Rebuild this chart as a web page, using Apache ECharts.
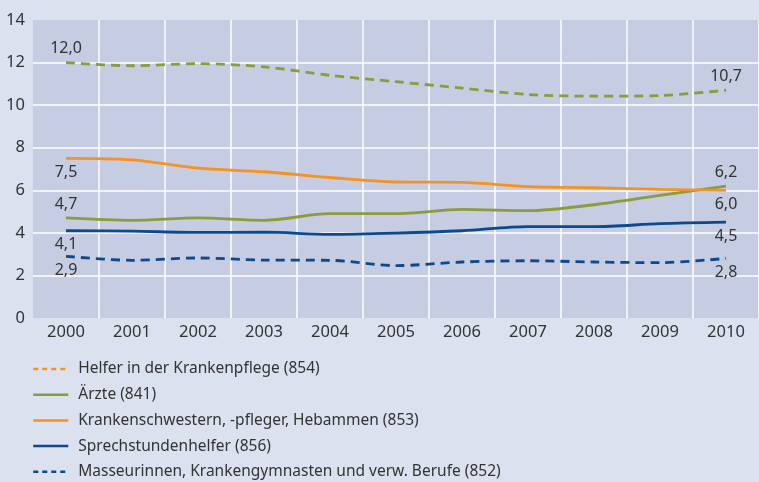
<!DOCTYPE html>
<html>
<head>
<meta charset="utf-8">
<script src="https://cdn.jsdelivr.net/npm/echarts@6/dist/echarts.min.js"></script>
<style>
  html, body { margin: 0; padding: 0; background: #dbe1ee; }
  #chart { width: 759px; height: 482px; }
</style>
</head>
<body>
<div id="chart"></div>
<script>
// Years on the x axis
const years = ['2000','2001','2002','2003','2004','2005','2006','2007','2008','2009','2010'];

// Shares per occupational group
const helfer       = [12.0, 11.85, 11.95, 11.8, 11.4, 11.1, 10.8, 10.5, 10.42, 10.45, 10.7];
const aerzte       = [4.7, 4.59, 4.7, 4.59, 4.9, 4.9, 5.1, 5.04, 5.32, 5.76, 6.2];
const krankenschw  = [7.5, 7.43, 7.04, 6.87, 6.6, 6.39, 6.37, 6.17, 6.12, 6.04, 6.0];
const sprechstd    = [4.1, 4.08, 4.02, 4.03, 3.93, 3.99, 4.1, 4.29, 4.29, 4.43, 4.5];
const masseur      = [2.9, 2.71, 2.82, 2.72, 2.71, 2.46, 2.63, 2.69, 2.63, 2.6, 2.8];

// y-axis ticks
const yTicks = [0, 2, 4, 6, 8, 10, 12, 14];

const names = [
  'Helfer in der Krankenpflege (854)',
  'Ärzte (841)',
  'Krankenschwestern, -pfleger, Hebammen (853)',
  'Sprechstundenhelfer (856)',
  'Masseurinnen, Krankengymnasten und verw. Berufe (852)'
];

const GREEN = '#8c9b3b';
const ORANGE = '#f7921e';
const BLUE = '#0b4a8c';
const TEXT = '#333333';
const FONT = '"Noto Sans", "Open Sans", sans-serif';

const fmt = v => v.toFixed(1).replace('.', ',');

// label only first and last point, above or below the line
function withEndLabels(values, firstPos, lastPos) {
  return values.map((v, i) => {
    if (i === 0 || i === values.length - 1) {
      return {
        value: v,
        label: {
          show: true,
          position: i === 0 ? firstPos : lastPos,
          distance: 6,
          formatter: p => fmt(p.value),
          color: TEXT,
          fontSize: 16,
          fontFamily: FONT
        }
      };
    }
    return v;
  });
}

function lineSeries(name, values, color, dashed, firstPos, lastPos, z) {
  return {
    name: name,
    type: 'line',
    data: withEndLabels(values, firstPos, lastPos),
    smooth: 0.3,
    symbol: 'circle',
    symbolSize: 0,
    showSymbol: true,
    z: z,
    lineStyle: {
      color: color,
      width: 2.8,
      type: dashed ? [9, 6] : 'solid'
    },
    itemStyle: { color: color }
  };
}

const chart = echarts.init(document.getElementById('chart'));
chart.setOption({
  backgroundColor: '#dbe1ee',
  animation: false,
  textStyle: { fontFamily: FONT },
  grid: {
    left: 33, top: 20, width: 732, height: 298,
    show: true, backgroundColor: '#c6cce1', borderWidth: 0
  },
  legend: {
    orient: 'vertical',
    left: 32, top: 361,
    padding: 0,
    itemWidth: 35, itemHeight: 16,
    itemGap: 9.7,
    itemStyle: { opacity: 0 },
    textStyle: { color: TEXT, fontSize: 15.5, lineHeight: 16, fontFamily: FONT, padding: [0, 0, 0, 5] },
    data: [
      { name: names[0], lineStyle: { color: ORANGE, type: [5, 4], width: 2.5 } },
      { name: names[1], lineStyle: { width: 2.5 } },
      { name: names[2], lineStyle: { width: 2.5 } },
      { name: names[3], lineStyle: { width: 2.5 } },
      { name: names[4], lineStyle: { type: [5, 4], width: 2.5 } }
    ]
  },
  xAxis: {
    type: 'category',
    data: years,
    boundaryGap: true,
    axisLine: { show: false },
    axisTick: { show: false },
    axisLabel: { color: TEXT, fontSize: 16.5, fontFamily: FONT, margin: 6 },
    splitLine: { show: true, showMinLine: false, lineStyle: { color: '#ffffff', width: 1.5 } }
  },
  yAxis: {
    type: 'value',
    min: yTicks[0], max: yTicks[yTicks.length - 1], interval: yTicks[1] - yTicks[0],
    axisLine: { show: false },
    axisTick: { show: false },
    axisLabel: { color: TEXT, fontSize: 16.5, fontFamily: FONT, margin: 8 },
    splitLine: { show: true, showMinLine: false, showMaxLine: false, lineStyle: { color: '#ffffff', width: 1.5 } }
  },
  series: [
    lineSeries(names[0], helfer, GREEN, true, 'top', 'top', 5),
    lineSeries(names[1], aerzte, GREEN, false, 'top', 'top', 4),
    lineSeries(names[2], krankenschw, ORANGE, false, 'bottom', 'bottom', 5),
    lineSeries(names[3], sprechstd, BLUE, false, 'bottom', 'bottom', 3),
    lineSeries(names[4], masseur, BLUE, true, 'bottom', 'bottom', 3)
  ]
});
</script>
</body>
</html>
